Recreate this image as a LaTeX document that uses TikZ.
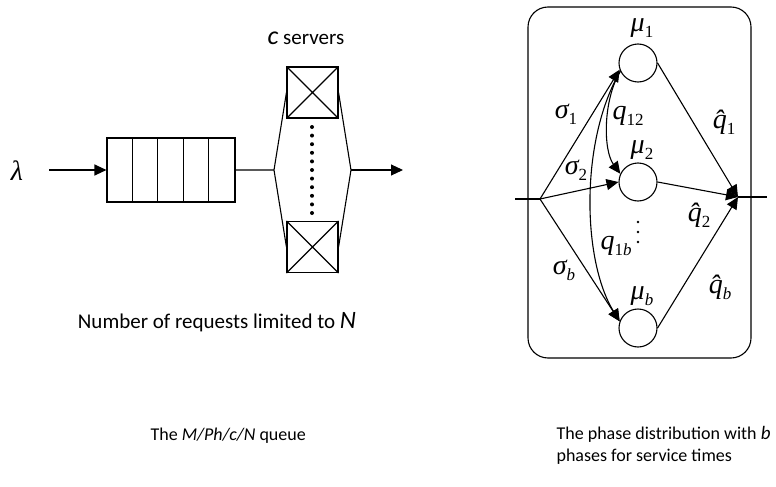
\documentclass[tikz,border=0pt]{standalone}
\usepackage{fontspec}
\setmainfont{Carlito}
\newfontfamily\tms{Liberation Serif}
\usetikzlibrary{arrows.meta}
\newcommand{\sym}[2]{{\tms\itshape #1\raisebox{-0.45ex}{\fontsize{17}{17}\selectfont\upshape #2}}}
\begin{document}
\begin{tikzpicture}[x=1pt,y=-1pt,line width=1.1pt,font=\fontsize{21}{26}\selectfont,
  tip/.style={-{Triangle[length=12pt,width=11pt]}},
  srv/.style={draw,minimum size=51pt,inner sep=0pt},
  phase/.style={draw,circle,minimum size=38pt,inner sep=0pt},
  lbl/.style={font=\fontsize{28}{28}\selectfont,inner sep=0pt},
  capt/.style={font=\fontsize{18}{22}\selectfont,align=left,inner sep=0pt}]
\useasboundingbox (0,0) rectangle (776,487);
% the M/Ph/c/N queue
\node[lbl] (lam) at (17,171) {{\tms\itshape λ}};
\coordinate (qin) at (49,170);
\node[draw,minimum width=128pt,minimum height=64pt,inner sep=0pt] (queue) at (171,170) {};
\foreach \i in {1,...,4}
  \draw ([xshift=25.6*\i pt]queue.north west) -- ([xshift=25.6*\i pt]queue.south west);
\draw[tip] (qin) -- (queue.west);
\node[srv] (s1) at (312.5,92.5) {};
\node[srv] (s2) at (312.5,247) {};
\foreach \s in {s1,s2}
  \draw (\s.north west) -- (\s.south east) (\s.north east) -- (\s.south west);
\coordinate (fanin) at (274,170);
\coordinate (fanout) at (351,170);
\coordinate (qout) at (403,170);
\draw (queue.east) -- (fanin) -- (s1.west) (fanin) -- (s2.west);
\draw (s1.east) -- (fanout) -- (s2.east);
\draw[tip] (fanout) -- (qout);
\foreach \k in {0,...,10}
  \fill (312,127+8.6*\k) circle (2pt);
\node (srvlbl) at (306,38) {{\fontsize{26}{26}\selectfont\textit{c}} servers};
\node (limit) at (217,322) {Number of requests limited to {\fontsize{25}{25}\selectfont\textit{N}}};
\node[capt,anchor=west] (cap1) at (150,436) {The \textit{M/Ph/c/N} queue};
% the phase distribution
\draw[rounded corners=20pt] (528,7) rectangle (751,358);
\node[phase] (p1) at (638,63) {};
\node[phase] (p2) at (638,182) {};
\node[phase] (pb) at (638,328) {};
\node[lbl] (mu1) at (642,28) {\sym{μ}{1}};
\node[lbl] (mu2) at (642,150) {\sym{μ}{2}};
\node[lbl] (mub) at (642,296) {\sym{μ}{\textit{b}}};
\coordinate (pin) at (515,199);
\coordinate (split) at (540,199);
\coordinate (merge) at (738,197);
\coordinate (pout) at (767,197);
\draw (pin) -- (split);
\draw (merge) -- (pout);
\draw[tip] (split) -- (p1.200);
\draw[tip] (split) -- (p2.west);
\draw[tip] (split) -- (pb.160);
\draw[tip] (p1.east) -- (merge);
\draw[tip] (p2.east) -- (merge);
\draw[tip] (pb.east) -- (merge);
\draw[tip] (p1.205) .. controls (603,100) and (603,150) .. (p2.155);
\draw[tip] (p1.205) .. controls (580,140) and (582,260) .. (pb.160);
\foreach \k in {0,1,2}
  \fill (638,222+10*\k) circle (1.4pt);
\node[lbl] (sig1) at (566,114) {\sym{σ}{1}};
\node[lbl] (sig2) at (576,170) {\sym{σ}{2}};
\node[lbl] (sigb) at (564,270) {\sym{σ}{\textit{b}}};
\node[lbl] (q12) at (628,116) {\sym{q}{12}};
\node[lbl] (q1b) at (616,246) {\sym{q}{1\textit{b}}};
\node[lbl] (qh1) at (724,122) {\sym{\^q}{1}};
\node[lbl] (qh2) at (699,215) {\sym{\^q}{2}};
\node[lbl] (qhb) at (720,287) {\sym{\^q}{\textit{b}}};
\node[capt,anchor=north west] (cap2) at (556,426) {The phase distribution with {\fontsize{19}{19}\selectfont\textit{b}}\\phases for service times};
\end{tikzpicture}
\end{document}
